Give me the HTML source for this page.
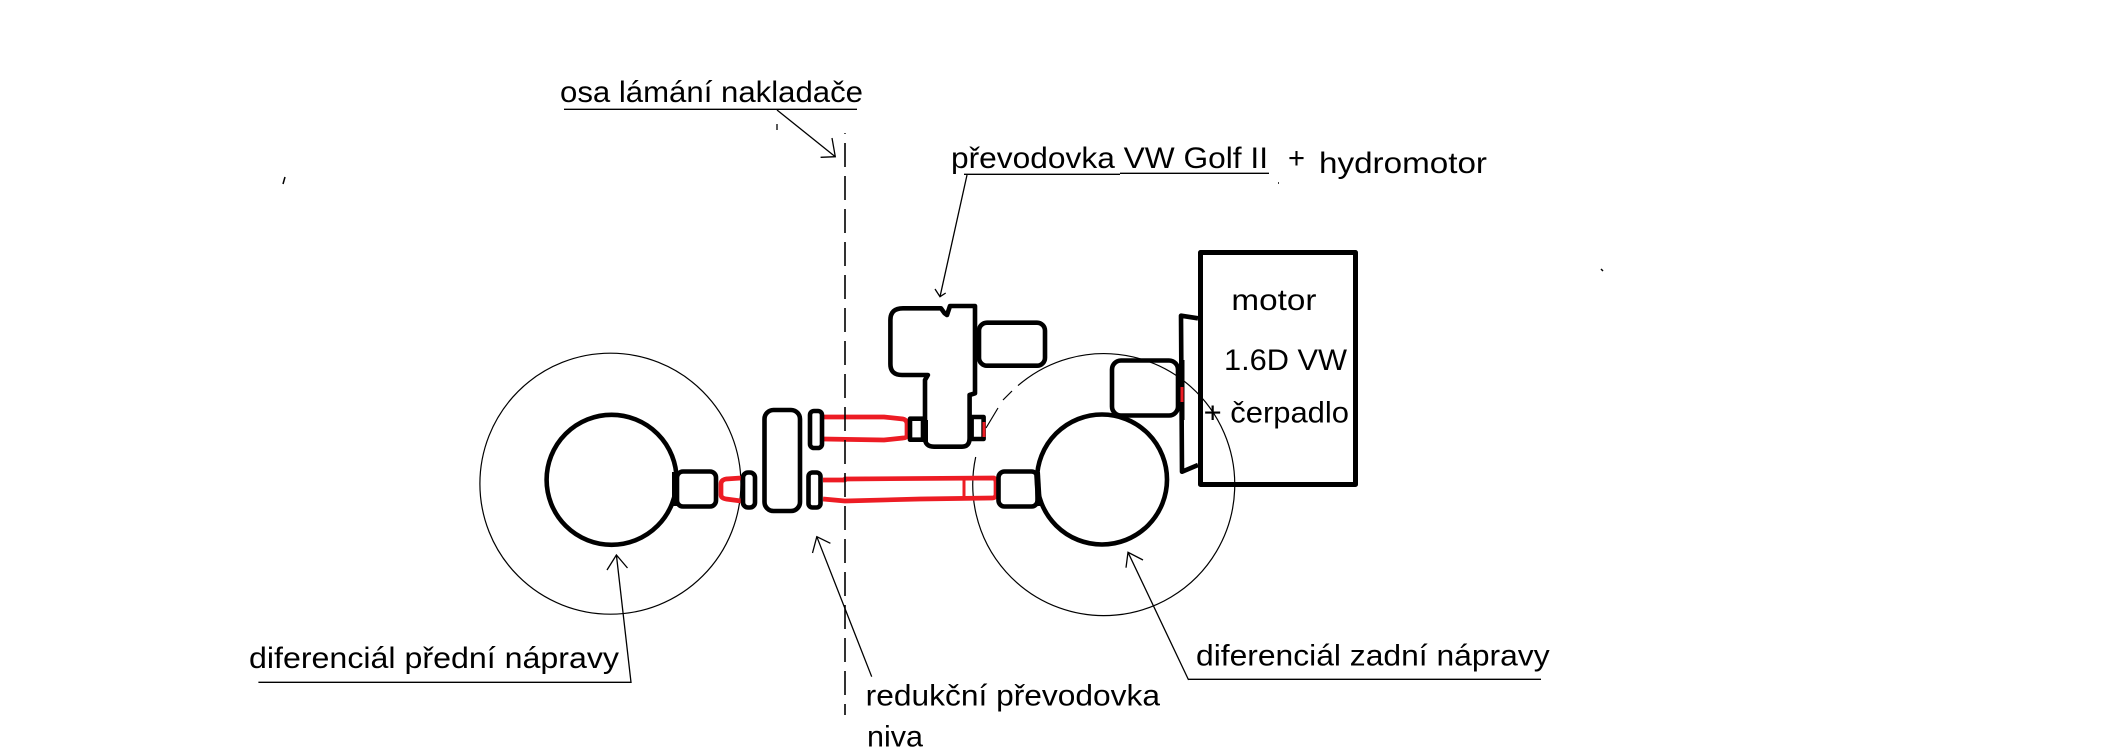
<!DOCTYPE html>
<html><head><meta charset="utf-8"><style>
html,body{margin:0;padding:0;background:#fff;width:2124px;height:752px;overflow:hidden}
svg{display:block}
text{font-family:"Liberation Sans",sans-serif;font-size:30px;fill:#000}
</style></head><body>
<svg width="2124" height="752" viewBox="0 0 2124 752" xmlns="http://www.w3.org/2000/svg">
<rect width="2124" height="752" fill="#fff"/>
<g fill="none" stroke="#000" stroke-width="1.2">
<circle cx="610.4" cy="483.7" r="130.5"/>
<path d="M1018 385.6A131 131 0 1 1 975.7 457"/>
<path d="M1012 391L1003 400"/>
<path d="M998 408L986 428"/>
</g>
<g fill="none" stroke="#ed1c24" stroke-width="4.7" stroke-linejoin="round">
<path d="M741 478L726 479Q721 480 721 484L721 495Q721 498 726 499L741 501"/>
<path d="M823 417L884 417L903 419Q907 420 907 424L907 435Q907 438 903 438L884 440L823 439"/>
<path d="M823 480L845 480L845 479L994 478Q996 479 996 483L996 494Q996 498 992 498L920 499L845 501L823 499"/>
<path d="M964 479L964 498" stroke-width="3"/>
</g>
<g fill="none" stroke="#000" stroke-width="4.6" stroke-linejoin="round">
<circle cx="611.6" cy="479.8" r="65"/>
<circle cx="1102" cy="479.5" r="65"/>
<rect x="677" y="471.5" width="39" height="35" rx="6"/>
<rect x="998.5" y="471.5" width="39" height="35" rx="6"/>
<path d="M675 472L675 506" stroke-width="6"/>
<path d="M1037 472L1039 506" stroke-width="6"/>
<rect x="743" y="472.5" width="12" height="35" rx="5"/>
<rect x="764.5" y="410" width="35.5" height="101" rx="9"/>
<rect x="810" y="411" width="12" height="37" rx="4"/>
<rect x="808.5" y="472.5" width="12" height="35" rx="4"/>
<rect x="1200.5" y="252.5" width="155" height="232" stroke-width="5"/>
<rect x="1112" y="360.5" width="66" height="55" rx="9"/>
<path d="M1198 318.3L1181 315.7L1182 471.7L1198 465"/>
<path d="M903 308.3L941 308.3L944.6 313.3L947 315L950 306L975 306L975 393.3L969.6 395L969.6 438Q969.6 446.7 962 446.7L934 446.7Q925 446.7 925 438L925 380L927.9 375L902 375Q890.4 375 890.4 364L890.4 320Q890.4 308.3 903 308.3Z"/>
<rect x="979" y="322.7" width="66" height="43" rx="8"/>
<rect x="910" y="418.7" width="13" height="21"/>
<rect x="971.6" y="417" width="12" height="22"/>
<path d="M925 420L925 442" stroke-width="6"/>
<path d="M1182 360L1182 420" stroke-width="5"/>
</g>
<g stroke="#ed1c24" stroke-width="3" fill="none">
<path d="M1182 387L1182 402"/>
<path d="M984 422L984 437"/>
</g>
<g fill="none" stroke="#000" stroke-width="1.3">
<path d="M845 143V715" stroke-dasharray="24 9" stroke-width="1.6"/>
<path d="M845 133V134"/>
<path d="M564 109.3H857"/>
<path d="M777 110L835.3 156.7M832 138L835.3 156.7L820.6 157.3"/>
<path d="M777 124V130"/>
<path d="M964 174.3H1120M1120 173.3H1269"/>
<path d="M967 175L940 296.7M935 289L940 296.7L945.7 293"/>
<path d="M258.4 682.3H631L616.4 555M607 570L616.4 555L627.5 568"/>
<path d="M1188.6 679.3H1541M1188.6 680L1128 552.3M1126 567.7L1128 552.3L1143 560"/>
<path d="M871.7 676.7L816.8 536.7M812.5 553L816.8 536.7L830.4 543.3"/>
<path d="M283 184L285 177" stroke-width="1.5"/>
<path d="M1601 269L1603 271M1278 183H1279" stroke-width="1.5"/>
</g>
<text x="560" y="102" textLength="303" lengthAdjust="spacingAndGlyphs">osa lámání nakladače</text>
<text x="951" y="168" textLength="317" lengthAdjust="spacingAndGlyphs">převodovka VW Golf II</text>
<text x="1288" y="168" textLength="17" lengthAdjust="spacingAndGlyphs">+</text>
<text x="1319" y="173" textLength="168" lengthAdjust="spacingAndGlyphs">hydromotor</text>
<text x="1231.4" y="310" textLength="85" lengthAdjust="spacingAndGlyphs">motor</text>
<text x="1224" y="370" textLength="123" lengthAdjust="spacingAndGlyphs">1.6D VW</text>
<text x="1203.6" y="422.7" textLength="145.4" lengthAdjust="spacingAndGlyphs">+ čerpadlo</text>
<text x="249" y="668" textLength="370" lengthAdjust="spacingAndGlyphs">diferenciál přední nápravy</text>
<text x="1196" y="665.7" textLength="353.6" lengthAdjust="spacingAndGlyphs">diferenciál zadní nápravy</text>
<text x="865.7" y="705.7" textLength="294.3" lengthAdjust="spacingAndGlyphs">redukční převodovka</text>
<text x="867" y="746.7" textLength="56" lengthAdjust="spacingAndGlyphs">niva</text>
</svg>
</body></html>
